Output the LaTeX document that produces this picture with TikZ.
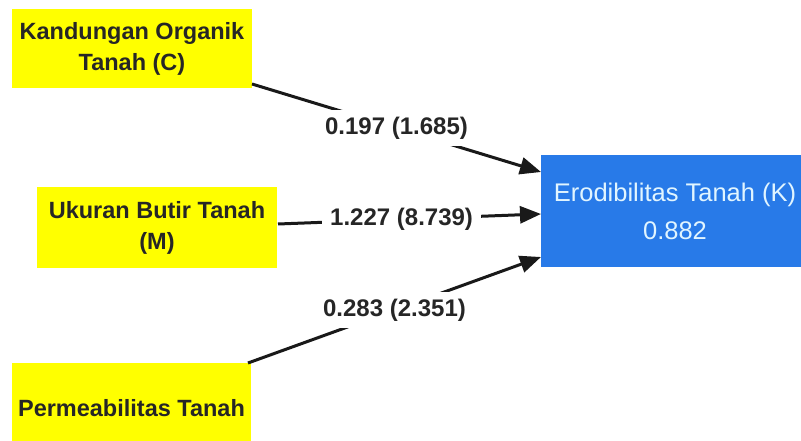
\documentclass[tikz,border=0pt]{standalone}
\usepackage{fontspec}
\setmainfont{Liberation Sans}
\usetikzlibrary{arrows.meta}
\definecolor{kuning}{RGB}{255,255,0}
\definecolor{biru}{RGB}{40,122,232}
\definecolor{tekbiru}{RGB}{225,245,255}
\tikzset{
  ybox/.style={draw=none, fill=kuning, inner sep=0pt, align=center,
    font=\fontsize{23.5}{31}\selectfont\bfseries, text=black!85},
  bbox/.style={draw=none, fill=biru, inner sep=0pt, align=center,
    font=\fontsize{25.5}{38}\selectfont, text=tekbiru},
  conn/.style={line width=3pt, -{Triangle[length=21pt,width=17pt]}, black!90},
  lbl/.style={fill=white, inner xsep=8pt, inner ysep=7pt, font=\fontsize{24}{28}\selectfont\bfseries, text=black!85}
}
\begin{document}
\begin{tikzpicture}[x=1pt,y=-1pt]
\useasboundingbox (0,0) rectangle (801,441);
\clip (0,0) rectangle (801,441);
\fill[white] (0,0) rectangle (801,441);
\node[ybox, minimum width=240pt, minimum height=79pt] (c) at (132,48.5) {Kandungan Organik\\Tanah (C)};
\node[ybox, minimum width=240pt, minimum height=81pt] (m) at (157,227.5) {Ukuran Butir Tanah\\(M)};
\node[ybox, minimum width=239pt, minimum height=90pt] (p) at (131.5,408) {Permeabilitas Tanah};
\node[bbox, minimum width=268pt, minimum height=112pt] (k) at (675,211) {Erodibilitas Tanah (K)\\0.882};
\coordinate (cs) at (252,84);
\coordinate (ms) at (278,224);
\coordinate (ps) at (248,363);
\coordinate (ke1) at (541,172);
\coordinate (ke2) at (541,214);
\coordinate (ke3) at (541,257);
\draw[conn] (cs) -- node[lbl, pos=0.5] {0.197 (1.685)} (ke1);
\draw[conn] (ms) -- node[lbl, pos=0.47] {1.227 (8.739)} (ke2);
\draw[conn] (ps) -- node[lbl, pos=0.5] {0.283 (2.351)} (ke3);
\end{tikzpicture}
\end{document}
